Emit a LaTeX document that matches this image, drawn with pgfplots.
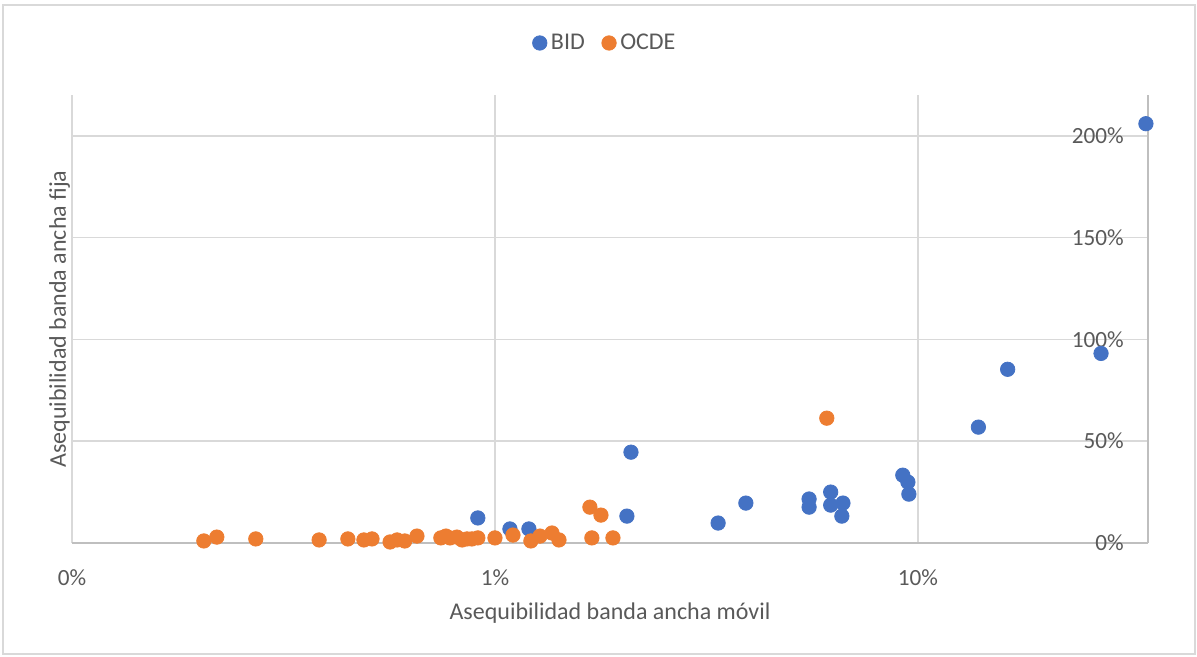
\documentclass[border=0pt]{standalone}
\usepackage{fontspec}
\setmainfont{Carlito}
\usepackage{pgfplots}
\pgfplotsset{compat=1.18}
\definecolor{bidblue}{HTML}{4472C4}
\definecolor{ocdeorange}{HTML}{ED7D31}
\definecolor{txtgray}{HTML}{595959}
\definecolor{gridgray}{HTML}{D9D9D9}
\definecolor{axgray}{HTML}{BFBFBF}
\begin{document}
\begin{tikzpicture}
\begin{axis}[
  name=ax,
  scale only axis,
  width=538pt, height=224pt,
  xmode=log,
  xmin=0.1, xmax=35, ymin=0, ymax=220,
  xtick={0.1,1,10},
  xticklabels={0\%,1\%,10\%},
  ytick={0,50,100,150,200},
  yticklabels={0\%,50\%,100\%,150\%,200\%},
  separate axis lines,
  axis x line*=bottom,
  axis y line*=right,
  axis line style={draw=axgray, line width=1pt},
  grid=major,
  major grid style={draw=gridgray, line width=0.8pt},
  major tick length=0pt,
  minor tick length=0pt,
  clip=false,
  every tick label/.append style={text=txtgray, font=\fontsize{11.6}{13}\selectfont},
  xticklabel style={anchor=base, yshift=-21.5pt, inner sep=0pt},
  yticklabel pos=right,
  yticklabel style={anchor=east, xshift=-12pt, inner sep=0pt},
  xlabel={Asequibilidad banda ancha móvil},
  ylabel={Asequibilidad banda ancha fija},
  label style={text=txtgray, font=\fontsize{12}{14}\selectfont},
  xlabel style={at={(rel axis cs:0.5,0)}, anchor=base, yshift=-38pt},
  ylabel style={at={([xshift=-3pt]rel axis cs:0,0.5)}, anchor=base},
  legend columns=2,
  legend style={at={(rel axis cs:0.5,1)}, anchor=center, yshift=26pt, xshift=-2pt,
    draw=none, fill=none, text=txtgray, font=\fontsize{12}{14}\selectfont,
    /tikz/every even column/.append style={column sep=6.5pt}},
  legend image code/.code={\draw[#1] plot coordinates {(0pt,0pt)};},
]
\addplot[only marks, mark=*, mark size=3.6pt, color=bidblue, mark options={draw=bidblue, fill=bidblue}] coordinates {
(0.911,12.3) (1.085,6.9) (1.203,6.9) (2.097,44.6) (2.051,13.2)
(3.37,9.8) (3.92,19.6) (5.53,21.6) (5.53,17.6) (6.22,25.0)
(6.22,18.6) (6.65,19.6) (6.61,13.2) (9.21,33.3) (9.47,29.9)
(9.52,24.0) (13.9,56.9) (16.3,85.3) (27.1,93.1) (34.6,205.9)
};
\addlegendentry{BID}
\addplot[only marks, mark=*, mark size=3.6pt, color=ocdeorange, mark options={draw=ocdeorange, fill=ocdeorange}] coordinates {
(0.205,1.0) (0.220,2.9) (0.272,2.0) (0.384,1.5) (0.449,2.0)
(0.490,1.5) (0.512,2.0) (0.565,0.5) (0.587,1.5) (0.612,1.0)
(0.654,3.4) (0.745,2.5) (0.766,3.4) (0.783,2.5) (0.813,2.9)
(0.836,1.5) (0.859,2.0) (0.882,2.0) (0.911,2.5) (1.0,2.5)
(1.103,3.9) (1.216,1.0) (1.278,3.4) (1.364,4.9) (1.417,1.5)
(1.677,17.6) (1.781,13.7) (1.695,2.5) (1.901,2.5) (6.09,61.3)
};
\addlegendentry{OCDE}
\end{axis}
\draw[draw=gridgray, line width=0.7pt] ([xshift=-34.5pt, yshift=-55.5pt]ax.south west) rectangle ([xshift=23.5pt, yshift=45pt]ax.north east);
\path ([xshift=-36pt, yshift=-57pt]ax.south west) rectangle ([xshift=24.5pt, yshift=47.5pt]ax.north east);
\end{tikzpicture}
\end{document}
